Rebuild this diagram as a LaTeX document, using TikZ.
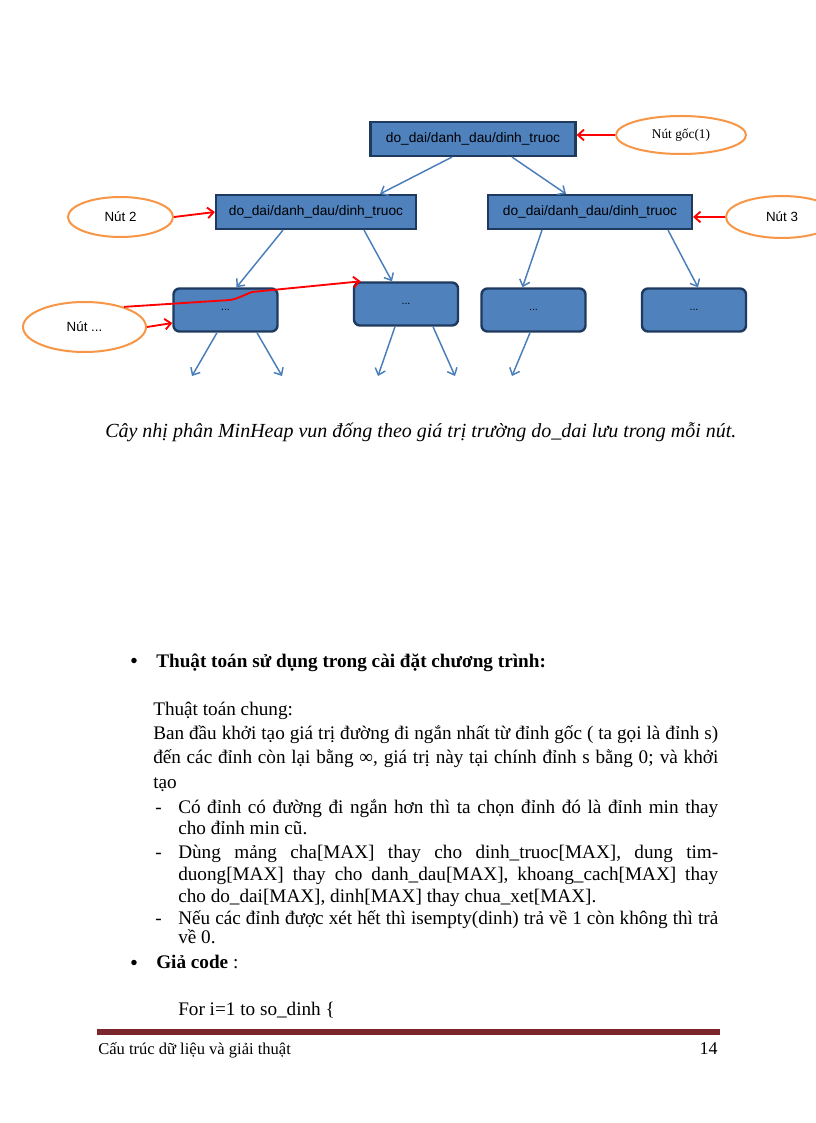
\documentclass[tikz,border=0pt]{standalone}
\usepackage{fontspec}
\setmainfont{Liberation Serif}
\setsansfont{Liberation Sans}
\usetikzlibrary{arrows.meta,shapes.geometric}
\definecolor{boxfill}{HTML}{4F81BD}
\definecolor{boxline}{HTML}{1F3A5F}
\definecolor{edgeblue}{HTML}{4A7EBB}
\definecolor{ovalorange}{HTML}{F79646}
\definecolor{footbar}{RGB}{122,38,44}
\begin{document}
\begin{tikzpicture}[x=0.75pt,y=-0.75pt,
  databox/.style={rectangle, draw=boxline, line width=1.6pt, fill=boxfill,
    minimum height=25.5pt, inner sep=0pt, font=\sffamily\fontsize{10.3}{12}\selectfont},
  leafbox/.style={rectangle, rounded corners=4.5pt, draw=boxline, line width=1.8pt,
    fill=boxfill, minimum width=78pt, minimum height=32.25pt, inner sep=0pt,
    font=\sffamily\fontsize{8}{9}\selectfont},
  labeloval/.style={ellipse, draw=ovalorange, line width=1.5pt, inner sep=0pt},
  ovalsans/.style={font=\sffamily\fontsize{10}{12}\selectfont},
  treeedge/.style={draw=edgeblue, line width=1.1pt, -{Straight Barb[length=4.5pt,width=8pt]}},
  pointer/.style={draw=red, line width=1.4pt, -{Straight Barb[length=4.5pt,width=8pt]}},
  bodytext/.style={anchor=base west, inner sep=0pt, font=\fontsize{14.4}{17}\selectfont},
  boldtext/.style={anchor=base west, inner sep=0pt, font=\bfseries\fontsize{14.4}{17}\selectfont},
  bulletmark/.style={anchor=base, inner sep=0pt, font=\fontsize{17}{19}\selectfont}
]
\useasboundingbox[fill=white] (0,0) rectangle (816,1123);

% ---- tree boxes ----
\node[databox, minimum width=153.75pt] (root) at (473,139) {do\_dai/danh\_dau/dinh\_truoc};
\node[databox, minimum width=150pt] (l2a) at (316,212) {do\_dai/danh\_dau/dinh\_truoc};
\node[databox, minimum width=153pt] (l2b) at (590,212) {do\_dai/danh\_dau/dinh\_truoc};
\node[leafbox] (A) at (225.5,310) {...};
\node[leafbox] (B) at (406,304) {...};
\node[leafbox] (C) at (533.5,310) {...};
\node[leafbox] (D) at (694,310) {...};

% ---- label ovals ----
\node[labeloval, minimum width=97.5pt, minimum height=28.5pt, font=\fontsize{10}{12}\selectfont] (ogoc) at (681,135) {Nút gốc(1)};
\node[labeloval, ovalsans, minimum width=78.75pt, minimum height=30pt] (o2) at (120.5,217) {Nút 2};
\node[labeloval, ovalsans, minimum width=84pt, minimum height=31.5pt] (o3) at (782,217) {Nút 3};
\node[labeloval, ovalsans, minimum width=92.25pt, minimum height=37.5pt] (odots) at (84.5,327) {Nút ...};

% ---- tree edges ----
\draw[treeedge] ([xshift=-15.75pt]root.south) -- ([xshift=48pt]l2a.north);
\draw[treeedge] ([xshift=29.25pt]root.south) -- ([xshift=-18pt]l2b.north);
\draw[treeedge] ([xshift=-24.75pt]l2a.south) -- ([xshift=8.25pt]A.north);
\draw[treeedge] ([xshift=36pt]l2a.south) -- ([xshift=-10.5pt]B.north);
\draw[treeedge] ([xshift=-36pt]l2b.south) -- ([xshift=-8.25pt]C.north);
\draw[treeedge] ([xshift=58.5pt]l2b.south) -- ([xshift=3pt]D.north);

\coordinate (a1) at (192,376);
\coordinate (a2) at (282,376);
\coordinate (b1) at (378,376);
\coordinate (b2) at (455,376);
\coordinate (c1) at (512,376);
\draw[treeedge] ([xshift=-6.4pt]A.south) -- (a1);
\draw[treeedge] ([xshift=23.6pt]A.south) -- (a2);
\draw[treeedge] ([xshift=-8.25pt]B.south) -- (b1);
\draw[treeedge] ([xshift=20.25pt]B.south) -- (b2);
\draw[treeedge] ([xshift=-2.6pt]C.south) -- (c1);

% ---- red pointers ----
\draw[pointer] (ogoc.west) -- (ogoc.west -| root.east);
\draw[pointer] (o2.east) -- (l2a.west);
\draw[pointer] (o3.west) -- (o3.west -| l2b.east);
\draw[pointer] (odots.east) -- ([yshift=-9.75pt]A.west);
\coordinate (hA) at (230,300);
\coordinate (hB) at (252,292);
\draw[pointer] (odots.27) -- (hA) to[out=10,in=200] (hB) -- ([xshift=6pt]B.north west);

% ---- caption ----
\node[anchor=base west, inner sep=0pt, font=\itshape\fontsize{15}{17}\selectfont] (caption) at (105,437)
  {Cây nhị phân MinHeap vun đống theo giá trị trường do\_dai lưu trong mỗi nút.};

% ---- body text ----
\node[bulletmark] (b1mark) at (134,668) {\textbullet};
\node[boldtext] (title) at (156,667) {Thuật toán sử dụng trong cài đặt chương trình:};
\node[bodytext] (t1) at (153,715) {Thuật toán chung:};
\node[bodytext] (t2) at (153,739) {\makebox[423.75pt][s]{Ban đầu khởi tạo giá trị đường đi ngắn nhất từ đỉnh gốc ( ta gọi là đỉnh s)}};
\node[bodytext] (t3) at (153,763) {\makebox[423.75pt][s]{đến các đỉnh còn lại bằng ∞, giá trị này tại chính đỉnh s bằng 0; và khởi}};
\node[bodytext] (t4) at (153,788) {tạo};

\node[bodytext] (d1) at (155,813) {-};
\node[bodytext] (i1a) at (178,813) {\makebox[405pt][s]{Có đỉnh có đường đi ngắn hơn thì ta chọn đỉnh đó là đỉnh min thay}};
\node[bodytext] (i1b) at (178,834) {cho đỉnh min cũ.};
\node[bodytext] (d2) at (155,858) {-};
\node[bodytext] (i2a) at (178,858) {\makebox[405pt][s]{Dùng mảng cha[MAX] thay cho dinh\_truoc[MAX], dung tim-}};
\node[bodytext] (i2b) at (178,880) {\makebox[405pt][s]{duong[MAX] thay cho danh\_dau[MAX], khoang\_cach[MAX] thay}};
\node[bodytext] (i2c) at (178,902) {cho do\_dai[MAX], dinh[MAX] thay chua\_xet[MAX].};
\node[bodytext] (d3) at (155,924) {-};
\node[bodytext] (i3a) at (178,924) {\makebox[405pt][s]{Nếu các đỉnh được xét hết thì isempty(dinh) trả về 1 còn không thì trả}};
\node[bodytext] (i3b) at (178,943) {về 0.};

\node[bulletmark] (b2mark) at (134,970) {\textbullet};
\node[bodytext] (gia) at (156,968) {\textbf{Giả code} :};
\node[bodytext] (for) at (178,1015) {For i=1 to so\_dinh \{};

% ---- footer ----
\fill[footbar] (97,1029) rectangle (720,1035);
\node[anchor=base west, inner sep=0pt, font=\fontsize{12.4}{14}\selectfont] (foot) at (98,1054) {Cấu trúc dữ liệu và giải thuật};
\node[anchor=base east, inner sep=0pt, font=\fontsize{13.5}{15}\selectfont] (pageno) at (718,1054) {14};
\end{tikzpicture}
\end{document}
